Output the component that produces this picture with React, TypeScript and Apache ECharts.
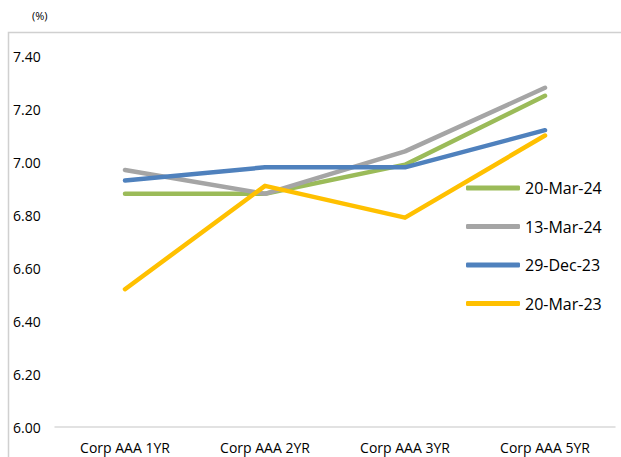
import React, { useEffect, useRef } from "react";
import * as echarts from "echarts";

const categories = ["Corp AAA 1YR", "Corp AAA 2YR", "Corp AAA 3YR", "Corp AAA 5YR"];
const seriesNames = ["20-Mar-24", "13-Mar-24", "29-Dec-23", "20-Mar-23"];
const mar24 = [6.88, 6.88, 6.99, 7.25];
const mar24Prev = [6.97, 6.88, 7.04, 7.28];
const dec23 = [6.93, 6.98, 6.98, 7.12];
const mar23 = [6.52, 6.91, 6.79, 7.1];
const seriesColors = ["#9BBB59", "#A5A5A5", "#4F81BD", "#FFC000"];
const yTicks = { min: 6, max: 7.4, step: 0.2 };

const FONT = "'Open Sans', 'Noto Sans', sans-serif";

export default function App() {
  const ref = useRef<HTMLDivElement>(null);

  useEffect(() => {
    if (!ref.current) return;
    const chart = echarts.init(ref.current, null, { renderer: "svg" });
    const values = [mar24, mar24Prev, dec23, mar23];

    chart.setOption({
      animation: false,
      backgroundColor: "#ffffff",
      textStyle: { fontFamily: FONT },
      grid: { left: 55, right: 6, top: 56, bottom: 30, containLabel: false },
      legend: {
        orient: "vertical",
        left: 461,
        top: 175,
        padding: 5,
        itemWidth: 54,
        itemHeight: 5,
        itemGap: 22.5,
        icon: "roundRect",
        data: seriesNames,
        textStyle: { fontFamily: FONT, fontSize: 16, color: "#000", lineHeight: 16 },
      },
      xAxis: {
        type: "category",
        data: categories,
        boundaryGap: true,
        axisLine: { show: true, lineStyle: { color: "#d9d9d9", width: 1.5 } },
        axisTick: { show: false },
        axisLabel: { fontFamily: FONT, fontSize: 14, color: "#000", margin: 13 },
        splitLine: { show: false },
      },
      yAxis: {
        type: "value",
        min: yTicks.min,
        max: yTicks.max,
        interval: yTicks.step,
        axisLine: { show: false },
        axisTick: { show: false },
        splitLine: { show: false },
        axisLabel: {
          fontFamily: FONT,
          fontSize: 14,
          color: "#000",
          align: "left",
          margin: 42,
          formatter: (v: number) => v.toFixed(2),
        },
      },
      graphic: [
        {
          type: "rect",
          shape: { x: 8.5, y: 32.5, width: 800, height: 600 },
          style: { fill: "none", stroke: "#d0d0d0", lineWidth: 1.5 },
          silent: true,
        },
        {
          type: "text",
          x: 32,
          y: 15,
          style: {
            text: "(%)",
            fontFamily: FONT,
            fontSize: 11,
            fill: "#000",
            verticalAlign: "middle",
          },
        },
      ],
      series: seriesNames.map((name, i) => ({
        name,
        type: "line",
        data: values[i],
        showSymbol: false,
        symbol: "none",
        color: seriesColors[i],
        lineStyle: { color: seriesColors[i], width: 4.5, cap: "round", join: "round" },
        itemStyle: { color: seriesColors[i] },
        z: 2 + i,
      })),
    });

    return () => chart.dispose();
  }, []);

  return (
    <div
      ref={ref}
      style={{ position: "fixed", left: 0, top: 0, width: 621, height: 457 }}
    />
  );
}
